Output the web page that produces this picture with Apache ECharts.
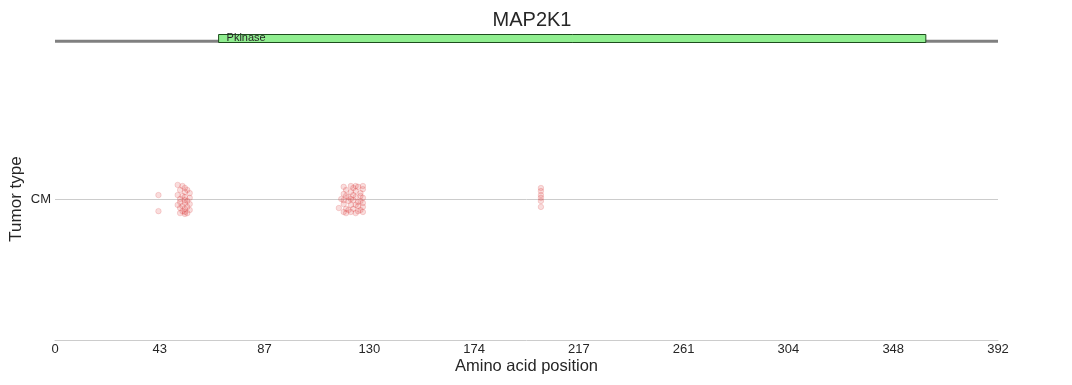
<!DOCTYPE html>
<html>
<head>
<meta charset="utf-8">
<script src="https://cdn.jsdelivr.net/npm/echarts@6/dist/echarts.min.js"></script>
<style>
html,body{margin:0;padding:0;background:#fff;}
#chart{width:1072px;height:385px;}
</style>
</head>
<body>
<div id="chart"></div>
<script>
// ---- data ----
const geneName = 'MAP2K1';
const proteinLength = 392;
const tumorTypes = ['CM'];
const xTickLabels = ['0','43','87','130','174','217','261','304','348','392'];
const domainNames = ['Pkinase'];
const domainStart = [68];
const domainEnd = [362];
// mutation amino-acid positions and vertical jitter (tumor type CM)
const mutPositions = [
  43, 43,
  51, 53, 54, 52, 55, 54, 56, 51, 53, 54, 56, 52, 54, 55, 52, 54, 56, 51, 53, 55, 52, 54, 56, 53, 54, 52, 54, 55,
  120, 123, 124, 125, 126, 128, 128, 121, 123, 125, 127, 120, 121, 122, 124, 125, 127, 128, 119, 120, 122, 123, 124, 126, 127, 128, 120, 123, 125, 126, 128, 118, 121, 122, 124, 126, 127, 120, 123, 125, 128, 121,
  202, 202, 202, 202, 202, 202
];
const mutJitter = [
  0.014, -0.043,
  0.050, 0.046, 0.039, 0.032, 0.032, 0.025, 0.021, 0.014, 0.011, 0.007, 0.004, 0.000, -0.004, -0.007, -0.011, -0.014, -0.018, -0.021, -0.025, -0.028, -0.032, -0.035, -0.039, -0.043, -0.046, -0.050, -0.053, -0.050,
  0.043, 0.046, 0.039, 0.046, 0.043, 0.046, 0.035, 0.032, 0.025, 0.028, 0.021, 0.018, 0.011, 0.007, 0.014, 0.007, 0.011, 0.004, 0.000, -0.004, -0.007, 0.000, -0.004, -0.011, -0.007, -0.014, -0.018, -0.021, -0.021, -0.025, -0.028, -0.032, -0.035, -0.039, -0.035, -0.043, -0.039, -0.046, -0.046, -0.050, -0.046, -0.050,
  0.039, 0.028, 0.014, 0.004, -0.007, -0.028
];

const chart = echarts.init(document.getElementById('chart'), null, {renderer: 'canvas'});
const step = proteinLength / 9;
const textColor = '#262626';
const fontFam = '"Liberation Sans", Arial, sans-serif';

const scatterData = mutPositions.map((p, i) => [p, mutJitter[i]]);
const domainData = domainNames.map((n, i) => [domainStart[i], domainEnd[i], n]);

chart.setOption({
  animation: false,
  backgroundColor: '#fff',
  title: {
    text: geneName, left: 527, top: 5, textAlign: 'center',
    textStyle: {fontFamily: fontFam, fontSize: 20, fontWeight: 'normal', color: textColor}
  },
  grid: [
    {left: 55, right: 74, top: 58, bottom: 45, containLabel: false, outerBoundsMode: 'none'},
    {left: 55, right: 74, top: 34.5, height: 8, containLabel: false, outerBoundsMode: 'none'}
  ],
  xAxis: [
    {
      gridIndex: 0, type: 'value', min: 0, max: proteinLength, interval: step,
      name: 'Amino acid position', nameLocation: 'middle', nameGap: 18, nameMoveOverlap: false,
      nameTextStyle: {fontFamily: fontFam, fontSize: 16.5, color: textColor},
      axisLine: {show: true, onZero: false, lineStyle: {color: '#cccccc', width: 1}},
      axisTick: {show: false},
      splitLine: {show: false},
      axisLabel: {
        fontFamily: fontFam, fontSize: 13, color: textColor, margin: 3,
        showMinLabel: true, showMaxLabel: true,
        formatter: v => xTickLabels[Math.round(v / step)]
      }
    },
    {
      gridIndex: 1, type: 'value', min: 0, max: proteinLength,
      show: false
    }
  ],
  yAxis: [
    {
      gridIndex: 0, type: 'value', min: -0.5, max: 0.5, interval: 0.5,
      name: 'Tumor type', nameLocation: 'middle', nameGap: 30, nameMoveOverlap: false,
      nameTextStyle: {fontFamily: fontFam, fontSize: 17, color: textColor},
      axisLine: {show: false}, axisTick: {show: false},
      axisLabel: {
        fontFamily: fontFam, fontSize: 13, color: textColor, margin: 4,
        formatter: v => (Math.abs(v) < 1e-9 ? tumorTypes[0] : '')
      },
      splitLine: {show: true, lineStyle: {color: ['rgba(0,0,0,0)', '#cccccc', 'rgba(0,0,0,0)'], width: 1}}
    },
    {
      gridIndex: 1, type: 'value', min: 0, max: 1, show: false
    }
  ],
  series: [
    {
      type: 'line', xAxisIndex: 1, yAxisIndex: 1, silent: true,
      data: [[0, 0.16], [proteinLength, 0.16]],
      symbol: 'none', lineStyle: {color: '#808080', width: 3}, z: 1
    },
    {
      type: 'custom', xAxisIndex: 1, yAxisIndex: 1, silent: true, z: 2,
      data: domainData,
      renderItem: (params, api) => {
        const p0 = api.coord([api.value(0), 1]);
        const p1 = api.coord([api.value(1), 0]);
        return {
          type: 'group',
          children: [
            {
              type: 'rect',
              shape: {x: p0[0], y: p0[1], width: p1[0] - p0[0], height: p1[1] - p0[1]},
              style: {fill: '#90ee90', stroke: '#1d4d1d', lineWidth: 1}
            },
            {
              type: 'text',
              style: {
                x: p0[0] + 8, y: (p0[1] + p1[1]) / 2 - 1,
                text: domainNames[params.dataIndex],
                fill: '#262626', font: '11px ' + fontFam,
                textAlign: 'left', textVerticalAlign: 'middle'
              }
            }
          ]
        };
      }
    },
    {
      type: 'scatter', xAxisIndex: 0, yAxisIndex: 0,
      data: scatterData, symbol: 'circle', symbolSize: 5.5,
      itemStyle: {color: 'rgba(220,60,60,0.22)', borderColor: 'rgba(220,60,60,0.3)', borderWidth: 0.8}
    }
  ]
});
</script>
</body>
</html>
